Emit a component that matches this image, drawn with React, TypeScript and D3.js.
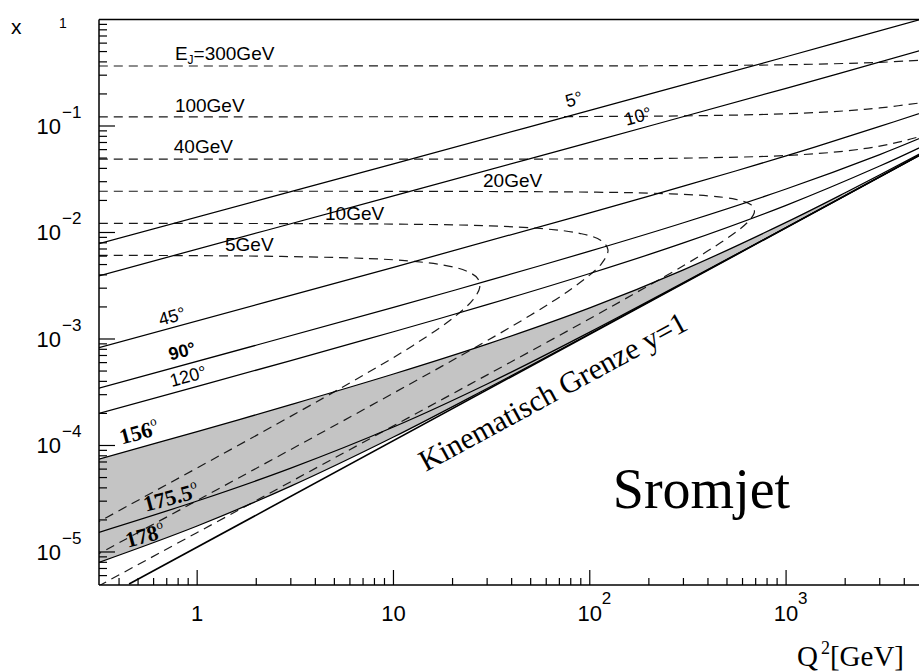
import React, { useEffect, useRef } from 'react';
import * as d3 from 'd3';

// axis ranges: Q^2 in GeV^2, Bjorken x
const q2Range = [0.3162, 5012];
const xRange = [4.898e-6, 1];

// lines of constant jet angle, [Q2, x]
const angle5 = [[0.316, 0.00785], [10, 0.0441], [100, 0.1402], [1000, 0.447], [5000, 1.02]];
const angle10 = [[0.316, 0.00392], [10, 0.0221], [100, 0.0703], [1000, 0.226], [5000, 0.521]];
const angle45 = [[0.316, 8.29e-4], [10, 4.71e-3], [100, 0.0153], [300, 0.0272], [1000, 0.0524], [3000, 0.099], [5000, 0.135]];
const angle90 = [[0.316, 3.45e-4], [10, 1.98e-3], [30, 3.51e-3], [100, 6.68e-3], [300, 0.01235], [1000, 0.0256], [3000, 0.0539], [5000, 0.079]];
const angle120 = [[0.316, 2.0e-4], [3, 6.27e-4], [10, 1.17e-3], [30, 2.1e-3], [100, 4.12e-3], [300, 7.98e-3], [1000, 0.018], [3000, 0.0421], [5000, 0.065]];
const angle156 = [[0.316, 7.46e-5], [1, 1.35e-4], [3, 2.42e-4], [10, 4.69e-4], [30, 8.95e-4], [100, 1.96e-3], [300, 4.46e-3], [1000, 0.01244], [2000, 0.0236], [5000, 0.0569]];
const angle175 = [[0.316, 1.53e-5], [1, 3.01e-5], [3, 6.13e-5], [10, 1.49e-4], [30, 3.78e-4], [100, 1.16e-3], [1000, 0.01114], [5000, 0.0555]];
const angle178 = [[0.316, 7.99e-6], [1, 1.755e-5], [3, 4.15e-5], [10, 1.2e-4], [30, 3.43e-4], [100, 1.12e-3], [1000, 0.0111], [5000, 0.0555]];

// kinematic limit y = 1
const limitY1 = [[0.45, 5.0e-6], [5000, 0.0554]];

// lines of constant jet energy (dashed)
const energy300 = [[0.316, 0.366], [100, 0.367], [300, 0.369], [1000, 0.376], [3000, 0.396], [5000, 0.417]];
const energy100 = [[0.316, 0.122], [100, 0.1228], [300, 0.1244], [1000, 0.1302], [2000, 0.1388], [3000, 0.1477], [5000, 0.1662]];
const energy40 = [[0.316, 0.0488], [100, 0.0491], [300, 0.0499], [1000, 0.0528], [2000, 0.0582], [3000, 0.0648], [4000, 0.0727], [5000, 0.0814]];
const energy20 = [[0.316, 0.02439], [21.9, 0.0243], [108, 0.0239], [211, 0.02337], [399, 0.0221], [554, 0.02047], [660, 0.01829], [686, 0.0169], [688, 0.01524], [655, 0.01321], [578, 0.01067], [434, 0.0074], [304, 0.00495], [192, 0.00305], [128, 0.002], [56.6, 8.71e-4], [18.1, 2.77e-4], [2.2, 3.35e-5], [0.3, 4.57e-6]];
const energy10 = [[0.316, 0.01219], [10.8, 0.01198], [31.2, 0.01154], [58.6, 0.01083], [88.6, 0.00982], [114, 0.00843], [123.8, 0.00686], [114.6, 0.00508], [82.5, 0.00305], [50.1, 0.00168], [22.2, 7.04e-4], [6.19, 1.906e-4], [1.1, 3.35e-5], [0.3, 9.15e-6]];
const energy5 = [[0.316, 0.0061], [2.69, 0.00596], [10, 0.00554], [17.9, 0.00495], [23.5, 0.00435], [26.8, 0.00371], [27.5, 0.00305], [25.5, 0.00236], [20.6, 0.00163], [12.6, 8.71e-4], [7.32, 4.78e-4], [2.5, 1.56e-4], [0.3, 1.83e-5]];

const solidLines = [angle5, angle10, angle45, angle90, angle120, angle156, angle175, angle178];
const dashedLines = [energy300, energy100, energy40, energy20, energy10, energy5];

// tick labels
const xMajor = [1, 10, 100, 1000];
const xMajorBase = ['1', '10', '10', '10'];
const xMajorExp = ['', '', '2', '3'];
const yMajor = [1e-1, 1e-2, 1e-3, 1e-4, 1e-5];
const yMajorExp = ['\u22121', '\u22122', '\u22123', '\u22124', '\u22125'];

// annotations, placed in data coordinates [Q2, x]
const energyLabels = [
  { text: '100GeV', q2: 0.77, x: 0.1353 },
  { text: '40GeV', q2: 0.76, x: 0.0558 },
  { text: '20GeV', q2: 28.6, x: 0.02675 },
  { text: '10GeV', q2: 4.48, x: 0.0131 },
  { text: '5GeV', q2: 1.386, x: 0.0067 },
];
const angleLabels = [
  { text: '5°', q2: 83, x: 0.179, bold: false },
  { text: '10°', q2: 176, x: 0.124, bold: false },
  { text: '45°', q2: 0.744, x: 1.64e-3, bold: false },
  { text: '90°', q2: 0.837, x: 7.72e-4, bold: true },
  { text: '120°', q2: 0.898, x: 4.49e-4, bold: false },
];
const backAngleLabels = [
  { text: '156', q2: 0.505, x: 1.34e-4 },
  { text: '175.5', q2: 0.735, x: 3.28e-5 },
  { text: '178', q2: 0.542, x: 1.44e-5 },
];

const SANS = "'Liberation Sans', Arial, Helvetica, sans-serif";
const SERIF = "'Liberation Serif', 'Times New Roman', serif";

const App = () => {
  const chartRef = useRef(null);

  useEffect(() => {
    const svg = d3.select(chartRef.current);
    svg.selectAll('*').remove();

    const left = 99, right = 923.5, top = 19.5, bottom = 585;

    const x = d3.scaleLog().domain(q2Range).range([left, right]);
    const y = d3.scaleLog().domain(xRange).range([bottom, top]);

    svg.append('defs').append('clipPath').attr('id', 'plotArea')
      .append('rect')
      .attr('x', left).attr('y', top)
      .attr('width', right - left).attr('height', bottom - top);

    const line = d3.line()
      .x(d => x(d[0]))
      .y(d => y(d[1]))
      .curve(d3.curveCatmullRom.alpha(0.5));

    const g = svg.append('g').attr('clip-path', 'url(#plotArea)');

    // grey band between 156 and 178 degrees
    const upper = line(angle156);
    const lower = line(angle178.slice().reverse());
    g.append('path')
      .attr('d', upper + 'L' + lower.slice(1) + 'Z')
      .attr('fill', '#c4c4c4');

    dashedLines.forEach(d => {
      g.append('path')
        .attr('d', line(d))
        .attr('fill', 'none')
        .attr('stroke', '#1a1a1a')
        .attr('stroke-width', 1.2)
        .attr('stroke-dasharray', '9,6');
    });

    solidLines.forEach(d => {
      g.append('path')
        .attr('d', line(d))
        .attr('fill', 'none')
        .attr('stroke', '#000')
        .attr('stroke-width', 1.25);
    });

    g.append('path')
      .attr('d', line(limitY1))
      .attr('fill', 'none')
      .attr('stroke', '#000')
      .attr('stroke-width', 1.6);

    // frame
    const frame = svg.append('g').attr('stroke', '#000').attr('stroke-width', 1.5);
    frame.append('line').attr('x1', left).attr('x2', right).attr('y1', top).attr('y2', top);
    frame.append('line').attr('x1', left).attr('x2', left).attr('y1', top).attr('y2', bottom);
    frame.append('line').attr('x1', left).attr('x2', right).attr('y1', bottom).attr('y2', bottom);
    frame.append('line').attr('x1', right).attr('x2', right).attr('y1', top).attr('y2', bottom);

    const isDecade = v => Math.abs(Math.log10(v) - Math.round(Math.log10(v))) < 1e-6;

    // ticks
    const ticks = svg.append('g').attr('stroke', '#000').attr('stroke-width', 1.2);
    x.ticks().forEach(v => {
      const px = x(v);
      if (px <= left + 1 || px >= right) return;
      ticks.append('line')
        .attr('x1', px).attr('x2', px)
        .attr('y1', bottom).attr('y2', bottom - (isDecade(v) ? 15 : 7));
    });
    y.ticks().forEach(v => {
      const py = y(v);
      if (py <= top + 1 || py >= bottom - 1) return;
      ticks.append('line')
        .attr('x1', left).attr('x2', left + (isDecade(v) ? 16 : 8))
        .attr('y1', py).attr('y2', py);
    });

    // tick labels
    const labels = svg.append('g').attr('font-family', SANS).attr('fill', '#000');
    xMajor.forEach((v, i) => {
      labels.append('text')
        .attr('x', x(v)).attr('y', 621)
        .attr('font-size', 22)
        .attr('text-anchor', 'middle')
        .text(xMajorBase[i]);
      if (xMajorExp[i]) {
        labels.append('text')
          .attr('x', x(v) + 12).attr('y', 604)
          .attr('font-size', 17)
          .text(xMajorExp[i]);
      }
    });
    yMajor.forEach((v, i) => {
      labels.append('text')
        .attr('x', 61).attr('y', y(v) + 8)
        .attr('font-size', 22)
        .attr('text-anchor', 'end')
        .text('10');
      labels.append('text')
        .attr('x', 62).attr('y', y(v) - 8)
        .attr('font-size', 17)
        .text(yMajorExp[i]);
    });
    labels.append('text')
      .attr('x', 59).attr('y', 28)
      .attr('font-size', 14)
      .text('1');
    labels.append('text')
      .attr('x', 11).attr('y', 34)
      .attr('font-size', 21)
      .text('x');

    // axis title
    const q2Title = svg.append('text')
      .attr('x', 797).attr('y', 666)
      .attr('font-family', SERIF)
      .attr('font-size', 29);
    q2Title.append('tspan').text('Q');
    q2Title.append('tspan').attr('dy', -12).attr('dx', 3).attr('font-size', 18).text('2');
    q2Title.append('tspan').attr('dy', 12).text('[GeV]');

    // jet energy labels
    const ej = svg.append('text')
      .attr('x', x(0.77)).attr('y', y(0.417))
      .attr('font-family', SANS)
      .attr('font-size', 19);
    ej.append('tspan').text('E');
    ej.append('tspan').attr('dy', 4).attr('font-size', 12).text('J');
    ej.append('tspan').attr('dy', -4).text('=300GeV');

    energyLabels.forEach(d => {
      svg.append('text')
        .attr('x', x(d.q2)).attr('y', y(d.x))
        .attr('font-family', SANS)
        .attr('font-size', 19)
        .text(d.text);
    });

    angleLabels.forEach(d => {
      svg.append('text')
        .attr('transform', `translate(${x(d.q2)},${y(d.x)}) rotate(-15)`)
        .attr('text-anchor', 'middle')
        .attr('dy', '0.35em')
        .attr('font-family', SANS)
        .attr('font-weight', d.bold ? 700 : 400)
        .attr('font-size', 18)
        .text(d.text);
    });

    backAngleLabels.forEach(d => {
      const t = svg.append('text')
        .attr('transform', `translate(${x(d.q2)},${y(d.x)}) rotate(-15)`)
        .attr('text-anchor', 'middle')
        .attr('dy', '0.35em')
        .attr('font-family', SERIF)
        .attr('font-weight', 700)
        .attr('font-size', 22);
      t.append('tspan').text(d.text);
      t.append('tspan').attr('dy', -10).attr('font-size', 13).attr('font-weight', 400).text('o');
    });

    svg.append('text')
      .attr('transform', `translate(${x(14.6)},${y(5.64e-5)}) rotate(-28.5)`)
      .attr('font-family', SERIF)
      .attr('font-size', 30)
      .text('Kinematisch Grenze y=1');

    svg.append('text')
      .attr('x', x(131)).attr('y', y(2.59e-5))
      .attr('font-family', SERIF)
      .attr('font-size', 56)
      .text('Sromjet');
  }, []);

  return (
    <svg ref={chartRef} width={919} height={671} style={{ display: 'block', position: 'absolute', left: 0, top: 0, background: '#fff' }}></svg>
  );
};

export default App;
